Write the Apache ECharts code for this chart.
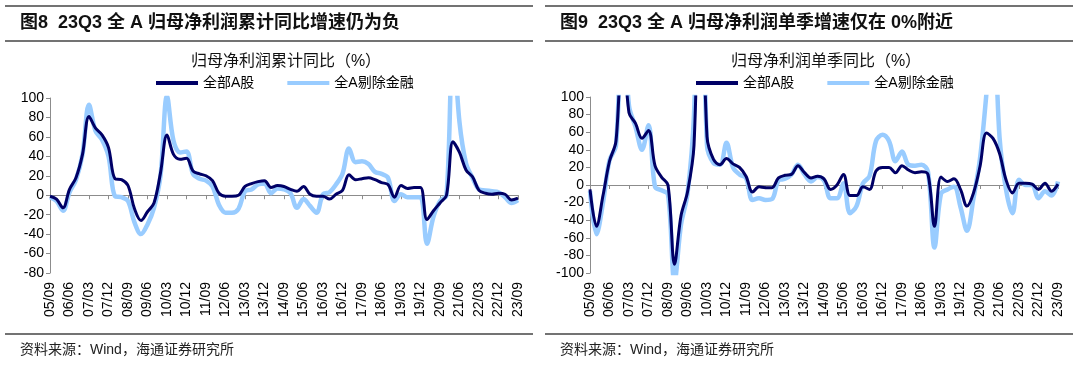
<!DOCTYPE html>
<html><head><meta charset="utf-8">
<script src="https://cdn.jsdelivr.net/npm/echarts@6/dist/echarts.min.js"></script>
<style>html,body{margin:0;padding:0;background:#fff}#c{width:1080px;height:365px}</style>
</head><body><div id="c"></div>
<script>
// ---- data ----
const quarters = ['05/09','05/12',
 '06/03','06/06','06/09','06/12','07/03','07/06','07/09','07/12',
 '08/03','08/06','08/09','08/12','09/03','09/06','09/09','09/12',
 '10/03','10/06','10/09','10/12','11/03','11/06','11/09','11/12',
 '12/03','12/06','12/09','12/12','13/03','13/06','13/09','13/12',
 '14/03','14/06','14/09','14/12','15/03','15/06','15/09','15/12',
 '16/03','16/06','16/09','16/12','17/03','17/06','17/09','17/12',
 '18/03','18/06','18/09','18/12','19/03','19/06','19/09','19/12',
 '20/03','20/06','20/09','20/12','21/03','21/06','21/09','21/12',
 '22/03','22/06','22/09','22/12','23/03','23/06','23/09'];
// Fig 8: cumulative YoY (%)
const cumAll   = [-1,-4,-13,6,18,42,81,69,62,49, 17,16,10,-14,-26,-17,-8,23,62,42, 37,38,25,22,20,15,2,-1,-1,0, 9,12,14,15,8,10,9,6,4,9, 1,-1,-1,-4,1,5,21,16,17,18, 16,13,11,-2,10,7,8,8,-25,-16, -8,0,55,44,26,19,5,2,1,2, 1,-5,-3];
const cumExFin = [-2,-6,-16,3,16,42,93,66,57,40, -1,-2,-6,-28,-40,-30,-13,20,102,56, 44,45,22,17,15,9,-10,-18,-18,-14, 4,6,11,12,2,7,6,2,-13,-4, -11,-18,1,3,11,22,48,34,35,32, 24,22,18,-6,1,-2,-2,-2,-50,-22, -6,0,160,75,33,18,6,5,4,3, -2,-8,-5];
// Fig 9: single-quarter YoY (%)
const qAll   = [-5,-47,-12,27,50,170,82,70,53,62, 22,9,0,-90,-35,-8,45,300,55,29, 23,30,24,20,10,-8,-2,-3,-3,8, 11,12,22,14,8,10,7,-5,0,12, -12,-12,-2,-5,16,20,20,14,22,17, 14,15,12,-47,9,4,7,-5,-24,-9, 21,59,53,36,6,-9,2,2,1,-5, 2,-7,1];
const qExFin = [-7,-56,-20,28,45,200,90,66,40,68, -2,-6,-11,-110,-45,-10,80,350,45,25, 23,48,20,12,8,-17,-15,-17,-16,5, 7,12,23,12,4,9,5,-15,-15,2, -32,-24,2,10,50,57,50,27,38,23, 22,23,15,-71,-10,-5,-2,-25,-52,-15, 30,105,200,55,-5,-32,6,0,0,-15, -7,-12,4];
const seriesNames = ['全部A股','全A剔除金融'];
const figTitles = ['图8  23Q3 全 A 归母净利润累计同比增速仍为负','图9  23Q3 全 A 归母净利润单季增速仅在 0%附近'];
const chartTitles = ['归母净利润累计同比（%）','归母净利润单季同比（%）'];
const sourceText = '资料来源：Wind，海通证券研究所';

// ---- chart ----
const FONT = '"Liberation Sans", "Noto Sans CJK SC", sans-serif';
const DARK = '#000066', LIGHT = '#99CCFF', AX = '#8c8c8c';
const chart = echarts.init(document.getElementById('c'), null, {renderer:'canvas'});

function xLab(gi){ return {type:'category', gridIndex:gi, data:quarters, boundaryGap:false, position:'bottom',
  axisLine:{show:false, onZero:false}, axisTick:{show:false},
  axisLabel:{interval:2, rotate:90, fontSize:14, color:'#000', fontFamily:FONT, margin:9}}; }
function xZero(gi){ return {type:'category', gridIndex:gi, data:quarters, boundaryGap:false, position:'top',
  axisLine:{show:true, onZero:true, lineStyle:{color:AX, width:1}},
  axisTick:{show:true, interval:2, inside:true, length:4, lineStyle:{color:AX}},
  axisLabel:{show:false}}; }
function yAx(gi,min,max){ return {type:'value', gridIndex:gi, min:min, max:max, interval:20,
  axisLine:{show:true, lineStyle:{color:AX}}, axisTick:{show:true, length:4, lineStyle:{color:AX}},
  splitLine:{show:false}, axisLabel:{fontSize:14, color:'#000', fontFamily:FONT, margin:6}}; }
function line(name, xi, yi, data, color, w, z){ return {type:'line', name:name, xAxisIndex:xi, yAxisIndex:yi, data:data,
  smooth:0.35, symbol:'none', showSymbol:false, clip:true, z:z,
  lineStyle:{color:color, width:w}, itemStyle:{color:color}}; }
function legend(left){ return {left:left, top:76, padding:0, icon:'rect', itemWidth:42, itemHeight:4, itemGap:33,
  data:seriesNames, textStyle:{fontSize:14, color:'#000', fontFamily:FONT}}; }

const gfx = [];
[0,540].forEach(function(dx,k){
  const x1 = 5+dx, x2 = 533+dx;
  gfx.push({type:'line', shape:{x1:x1,y1:6,x2:x2,y2:6}, style:{stroke:'#444', lineWidth:1.5}});
  gfx.push({type:'line', shape:{x1:x1,y1:41,x2:x2,y2:41}, style:{stroke:'#444', lineWidth:1.5}});
  gfx.push({type:'line', shape:{x1:x1,y1:334,x2:x2,y2:334}, style:{stroke:'#444', lineWidth:1.5}});
  gfx.push({type:'text', x:20+dx, y:23, style:{text:figTitles[k], font:'bold 18px '+FONT, fill:'#111', textVerticalAlign:'middle'}});
  gfx.push({type:'text', x:286+dx, y:62, style:{text:chartTitles[k], font:'16px '+FONT, fill:'#111', textAlign:'center', textVerticalAlign:'middle'}});
  gfx.push({type:'text', x:20+dx, y:350, style:{text:sourceText, font:'14px '+FONT, fill:'#222', textVerticalAlign:'middle'}});
});

chart.setOption({
  animation:false,
  backgroundColor:'#fff',
  grid:[{left:50, top:98, width:468, height:175}, {left:590, top:97, width:468, height:176}],
  xAxis:[xLab(0), xZero(0), xLab(1), xZero(1)],
  yAxis:[yAx(0,-80,100), yAx(1,-100,100)],
  legend:[legend(156), legend(696)],
  series:[
    line(seriesNames[1],0,0,cumExFin,LIGHT,4.5,2),
    line(seriesNames[0],0,0,cumAll,DARK,3,3),
    line(seriesNames[1],2,1,qExFin,LIGHT,4.5,2),
    line(seriesNames[0],2,1,qAll,DARK,3,3)
  ],
  graphic:gfx
});
</script></body></html>
